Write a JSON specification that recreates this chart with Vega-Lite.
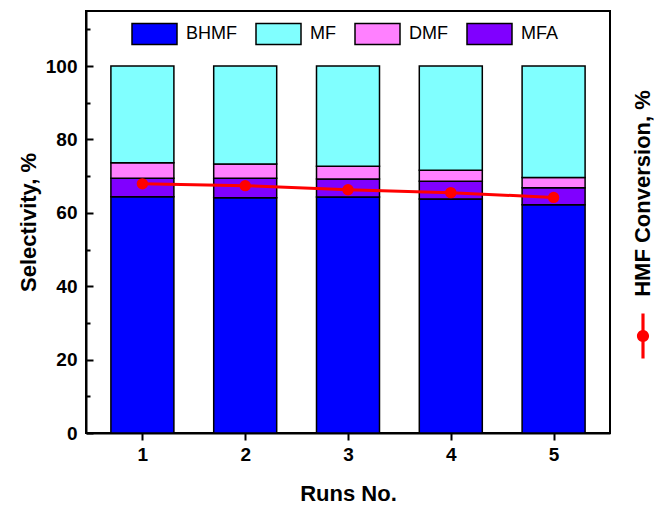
{
  "$schema": "https://vega.github.io/schema/vega-lite/v6.json",
  "width": 524,
  "height": 422,
  "autosize": {"type": "none"},
  "padding": {"left": 86, "top": 11, "right": 44, "bottom": 72},
  "background": "white",
  "config": {
    "font": "Liberation Sans",
    "view": {"stroke": "#000", "strokeWidth": 2},
    "axis": {"grid": false}
  },
  "datasets": {
    "sel": [
      {"run": 1, "Product": "BHMF", "ord": 1, "value": 64.4},
      {"run": 1, "Product": "MFA", "ord": 2, "value": 5.0},
      {"run": 1, "Product": "DMF", "ord": 3, "value": 4.25},
      {"run": 1, "Product": "MF", "ord": 4, "value": 26.35},
      {"run": 2, "Product": "BHMF", "ord": 1, "value": 64.1},
      {"run": 2, "Product": "MFA", "ord": 2, "value": 5.3},
      {"run": 2, "Product": "DMF", "ord": 3, "value": 3.9},
      {"run": 2, "Product": "MF", "ord": 4, "value": 26.7},
      {"run": 3, "Product": "BHMF", "ord": 1, "value": 64.3},
      {"run": 3, "Product": "MFA", "ord": 2, "value": 4.9},
      {"run": 3, "Product": "DMF", "ord": 3, "value": 3.5},
      {"run": 3, "Product": "MF", "ord": 4, "value": 27.3},
      {"run": 4, "Product": "BHMF", "ord": 1, "value": 63.8},
      {"run": 4, "Product": "MFA", "ord": 2, "value": 4.8},
      {"run": 4, "Product": "DMF", "ord": 3, "value": 3.0},
      {"run": 4, "Product": "MF", "ord": 4, "value": 28.4},
      {"run": 5, "Product": "BHMF", "ord": 1, "value": 62.2},
      {"run": 5, "Product": "MFA", "ord": 2, "value": 4.6},
      {"run": 5, "Product": "DMF", "ord": 3, "value": 2.8},
      {"run": 5, "Product": "MF", "ord": 4, "value": 30.4}
    ],
    "conv": [
      {"run": 1, "conv": 67.9},
      {"run": 2, "conv": 67.4},
      {"run": 3, "conv": 66.3},
      {"run": 4, "conv": 65.5},
      {"run": 5, "conv": 64.2}
    ]
  },
  "encoding": {
    "x": {
      "field": "run",
      "type": "quantitative",
      "scale": {"domain": [0.5, 5.5], "nice": false, "zero": false},
      "axis": {
        "values": [1, 2, 3, 4, 5],
        "format": "d",
        "title": "Runs No.",
        "labelFontSize": 19,
        "labelFontWeight": "bold",
        "labelColor": "#000",
        "tickSize": 7,
        "tickWidth": 2,
        "tickColor": "#000",
        "domainColor": "#000",
        "domainWidth": 2,
        "labelPadding": 5,
        "titleFontSize": 22,
        "titleFontWeight": "bold",
        "titleColor": "#000",
        "titleY": 60,
        "titleBaseline": "middle"
      }
    }
  },
  "layer": [
    {
      "data": {"name": "sel"},
      "mark": {"type": "bar", "size": 63, "stroke": "#000", "strokeWidth": 1.5},
      "encoding": {
        "y": {
          "field": "value",
          "type": "quantitative",
          "stack": "zero",
          "scale": {"domain": [0, 115], "nice": false},
          "axis": {
            "values": [0, 20, 40, 60, 80, 100],
            "title": "Selectivity, %",
            "labelFontSize": 19,
            "labelFontWeight": "bold",
            "labelColor": "#000",
            "tickSize": -7,
            "tickWidth": 2,
            "tickColor": "#000",
            "domainColor": "#000",
            "domainWidth": 2,
            "labelPadding": 16,
            "titleFontSize": 22,
            "titleFontWeight": "bold",
            "titleColor": "#000",
            "titleX": -58,
            "titleY": 211,
            "titleAngle": 270,
            "titleAlign": "center",
            "titleBaseline": "middle"
          }
        },
        "fill": {
          "field": "Product",
          "type": "nominal",
          "scale": {
            "domain": ["BHMF", "MF", "DMF", "MFA"],
            "range": ["#0000FF", "#80FFFF", "#FF80FF", "#8000FF"]
          },
          "legend": {
            "orient": "none",
            "legendX": 45,
            "legendY": -1,
            "direction": "horizontal",
            "title": null,
            "symbolType": "M-1,-0.47L1,-0.47L1,0.47L-1,0.47Z",
            "symbolSize": 2025,
            "symbolStrokeColor": "#000",
            "symbolStrokeWidth": 1.5,
            "symbolOpacity": 1,
            "labelFontSize": 18,
            "labelColor": "#000",
            "labelOffset": 8,
            "columnPadding": 16,
            "padding": 0
          }
        },
        "order": {"field": "ord", "type": "quantitative"}
      }
    },
    {
      "data": {"name": "conv"},
      "mark": {"type": "line", "strokeWidth": 3},
      "encoding": {
        "y": {
          "field": "conv",
          "type": "quantitative",
          "axis": {
            "orient": "left",
            "values": [10, 30, 50, 70, 90, 110],
            "labels": false,
            "domain": false,
            "tickSize": -4,
            "tickWidth": 2,
            "tickColor": "#000",
            "title": null
          }
        },
        "stroke": {
          "datum": "HMF Conversion",
          "type": "nominal",
          "scale": {"range": ["#FF0000"]},
          "legend": {
            "orient": "none",
            "legendX": 534.5,
            "legendY": 302.5,
            "title": null,
            "labelExpr": "''",
            "labelOffset": 0,
            "padding": 0,
            "symbolType": "M-0.07,-1L0.07,-1L0.07,1L-0.07,1Z M0.27,0A0.27,0.27,0,1,1,-0.27,0A0.27,0.27,0,1,1,0.27,0Z",
            "symbolSize": 2025,
            "symbolFillColor": "#FF0000",
            "symbolStrokeColor": "#FF0000",
            "symbolStrokeWidth": 0,
            "encode": {
              "symbols": {
                "update": {
                  "fill": {"value": "#FF0000"},
                  "stroke": {"value": "#FF0000"},
                  "strokeWidth": {"value": 0}
                }
              }
            }
          }
        }
      }
    },
    {
      "data": {"name": "conv"},
      "mark": {"type": "point", "filled": true, "shape": "circle", "size": 130, "color": "#FF0000", "opacity": 1},
      "encoding": {
        "y": {
          "field": "conv",
          "type": "quantitative",
          "axis": {
            "orient": "right",
            "labels": false,
            "ticks": false,
            "domain": false,
            "title": "HMF Conversion, %",
            "titleFontSize": 22,
            "titleFontWeight": "bold",
            "titleColor": "#000",
            "titleX": 32,
            "titleY": 182,
            "titleAngle": 270,
            "titleAlign": "center",
            "titleBaseline": "middle"
          }
        }
      }
    }
  ],
  "resolve": {"axis": {"y": "independent"}}
}
